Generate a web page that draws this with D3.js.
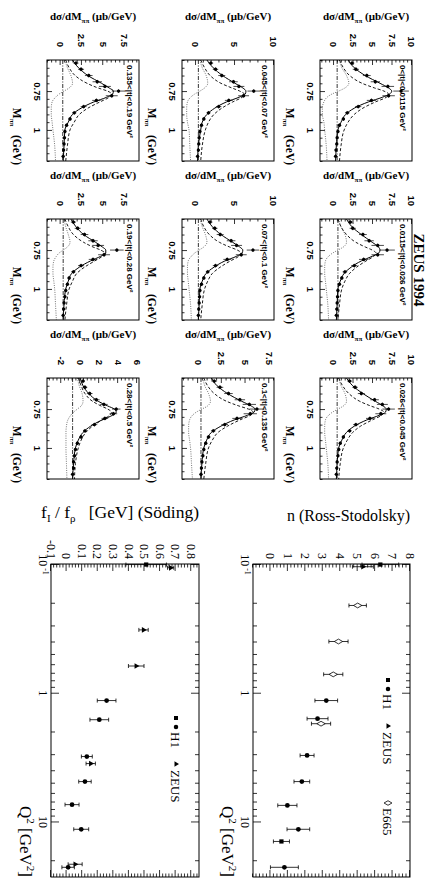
<!DOCTYPE html>
<html>
<head>
<meta charset="utf-8">
<title>ZEUS 1994 rho mass spectra</title>
<script src="https://cdn.jsdelivr.net/npm/d3@7"></script>
<style>
  html, body { margin: 0; padding: 0; background: #fff; }
  svg { display: block; }
</style>
</head>
<body>
<div id="chart"></div>
<script>
// ---------------- Data ----------------
// |t| bins of the nine ZEUS 1994 M(pi pi) spectra
const tBins = [
  "0<|t|<0.0115 GeV²", "0.0115<|t|<0.026 GeV²", "0.026<|t|<0.045 GeV²",
  "0.045<|t|<0.07 GeV²", "0.07<|t|<0.1 GeV²", "0.1<|t|<0.135 GeV²",
  "0.135<|t|<0.19 GeV²", "0.19<|t|<0.28 GeV²", "0.28<|t|<0.5 GeV²"
];

const massTicks = [0.75, 1];
const dsigmaTicks = [
  [0, 2.5, 5, 7.5, 10], [0, 2.5, 5, 7.5, 10], [0, 2.5, 5, 7.5, 10],
  [0, 5, 10], [0, 5, 10], [0, 2.5, 5, 7.5],
  [0, 2.5, 5, 7.5], [0, 2.5, 5, 7.5], [-2, 0, 2, 4, 6]
];

// fit curves, sampled at these masses (GeV)
const curveMass = [0.55, 0.6, 0.65, 0.7, 0.73, 0.75, 0.77, 0.79, 0.82, 0.86, 0.9, 0.95, 1.0, 1.1, 1.2];

// full fit (solid)
const totalFit = [
  [1.8, 2.6, 4.0, 5.9, 7.0, 7.4, 7.1, 6.2, 4.4, 2.6, 1.5, 0.9, 0.5, 0.3, 0.2],
  [1.6, 2.3, 3.5, 4.9, 5.7, 5.9, 5.7, 4.9, 3.5, 2.2, 1.3, 0.8, 0.5, 0.4, 0.3],
  [1.6, 2.4, 3.7, 5.3, 6.3, 6.7, 6.6, 5.8, 4.2, 2.6, 1.6, 1.0, 0.6, 0.4, 0.3],
  [1.4, 2.2, 3.4, 5.0, 6.0, 6.4, 6.3, 5.5, 3.9, 2.4, 1.4, 0.8, 0.6, 0.3, 0.2],
  [1.4, 2.1, 3.2, 4.7, 5.6, 6.0, 5.9, 5.2, 3.7, 2.3, 1.3, 0.8, 0.5, 0.4, 0.3],
  [1.4, 2.0, 3.1, 4.6, 5.6, 6.0, 5.9, 5.2, 3.8, 2.4, 1.4, 0.9, 0.6, 0.4, 0.3],
  [1.4, 2.1, 3.2, 4.8, 5.7, 6.2, 6.1, 5.4, 3.9, 2.4, 1.4, 0.9, 0.5, 0.4, 0.3],
  [1.2, 1.8, 2.7, 4.1, 4.9, 5.3, 5.3, 4.7, 3.5, 2.2, 1.3, 0.9, 0.6, 0.4, 0.3],
  [0.0, 0.3, 0.9, 1.9, 2.9, 3.6, 3.8, 3.4, 2.3, 1.1, 0.3, -0.2, -0.5, -0.7, -0.8]
];

// resonant Breit-Wigner term (dashed)
const resonantFit = [
  [0.7, 1.2, 2.0, 3.6, 5.2, 6.4, 7.0, 6.7, 5.3, 3.7, 2.6, 1.8, 1.3, 0.9, 0.7],
  [0.5, 0.9, 1.6, 2.8, 4.0, 4.9, 5.4, 5.1, 4.1, 2.9, 2.0, 1.4, 1.0, 0.7, 0.5],
  [0.6, 1.1, 1.9, 3.3, 4.7, 5.8, 6.4, 6.1, 4.9, 3.4, 2.4, 1.7, 1.2, 0.8, 0.6],
  [0.6, 1.1, 1.8, 3.2, 4.6, 5.6, 6.2, 5.9, 4.7, 3.3, 2.3, 1.6, 1.2, 0.8, 0.6],
  [0.6, 1.0, 1.7, 3.0, 4.3, 5.3, 5.8, 5.5, 4.4, 3.1, 2.1, 1.5, 1.1, 0.8, 0.6],
  [0.6, 1.0, 1.7, 3.0, 4.3, 5.3, 5.8, 5.5, 4.4, 3.1, 2.1, 1.5, 1.1, 0.8, 0.6],
  [0.6, 1.0, 1.7, 3.1, 4.4, 5.5, 6.0, 5.7, 4.6, 3.2, 2.2, 1.6, 1.1, 0.8, 0.6],
  [0.5, 0.9, 1.5, 2.7, 3.8, 4.7, 5.2, 4.9, 4.0, 2.8, 1.9, 1.4, 1.0, 0.7, 0.5],
  [-0.2, 0.1, 0.5, 1.3, 2.2, 2.9, 3.3, 3.1, 2.3, 1.3, 0.6, 0.1, -0.2, -0.5, -0.6]
];

// interference term (dotted)
const interferenceFit = [
  [0.7, 1.0, 1.6, 1.9, 1.4, 0.6, -0.3, -0.9, -1.3, -1.5, -1.5, -1.3, -1.2, -1.0, -0.9],
  [0.6, 0.9, 1.4, 1.6, 1.2, 0.5, -0.2, -0.7, -1.1, -1.2, -1.2, -1.1, -1.0, -0.8, -0.7],
  [0.6, 0.9, 1.4, 1.6, 1.2, 0.5, -0.2, -0.7, -1.1, -1.2, -1.2, -1.1, -1.0, -0.8, -0.7],
  [0.5, 0.8, 1.3, 1.5, 1.1, 0.5, -0.2, -0.7, -1.1, -1.2, -1.2, -1.1, -0.9, -0.8, -0.7],
  [0.5, 0.8, 1.2, 1.4, 1.0, 0.4, -0.2, -0.6, -1.0, -1.1, -1.1, -1.0, -0.9, -0.7, -0.6],
  [0.5, 0.7, 1.1, 1.3, 1.0, 0.4, -0.2, -0.6, -0.9, -1.0, -1.0, -0.9, -0.8, -0.7, -0.6],
  [0.5, 0.8, 1.2, 1.4, 1.0, 0.4, -0.2, -0.6, -1.0, -1.1, -1.1, -1.0, -0.9, -0.7, -0.6],
  [0.4, 0.6, 0.9, 1.1, 0.8, 0.3, -0.2, -0.5, -0.8, -0.9, -0.9, -0.8, -0.7, -0.6, -0.5],
  [-0.3, -0.1, 0.2, 0.3, 0.1, -0.3, -0.7, -1.0, -1.3, -1.45, -1.5, -1.5, -1.5, -1.45, -1.4]
];

// non-resonant background level (dash-dot)
const nonResonantFit = [0.4, 0.5, 0.4, 0.3, 0.3, 0.3, 0.25, 0.3, -0.8];

// measured points
const dataMass = [0.57, 0.61, 0.65, 0.69, 0.72, 0.75, 0.78, 0.81, 0.85, 0.89, 0.93, 0.97, 1.01, 1.05, 1.09, 1.13, 1.17];
const dataValues = [
  [2.3, 2.8, 4.2, 5.3, 6.9, 8.6, 7.0, 4.8, 3.1, 1.7, 1.2, 0.7, 0.5, 0.4, 0.35, 0.25, 0.2],
  [2.1, 2.4, 3.7, 4.5, 5.6, 6.8, 5.6, 3.8, 2.6, 1.4, 1.0, 0.7, 0.5, 0.45, 0.4, 0.35, 0.3],
  [2.0, 2.7, 3.5, 5.2, 6.2, 7.0, 6.0, 4.6, 2.8, 2.0, 1.2, 0.8, 0.6, 0.5, 0.4, 0.35, 0.3],
  [1.9, 2.5, 3.3, 4.8, 5.5, 7.4, 6.1, 4.2, 2.9, 1.6, 1.0, 0.7, 0.5, 0.4, 0.35, 0.3, 0.2],
  [1.8, 2.4, 3.1, 4.5, 5.2, 7.3, 5.8, 4.0, 2.5, 1.5, 1.0, 0.7, 0.5, 0.45, 0.4, 0.35, 0.3],
  [1.7, 2.3, 3.2, 4.4, 5.4, 6.2, 5.5, 4.1, 2.8, 1.6, 1.1, 0.8, 0.6, 0.5, 0.4, 0.35, 0.3],
  [1.8, 2.4, 3.3, 4.3, 5.2, 6.8, 6.0, 4.2, 2.7, 1.6, 1.1, 0.7, 0.5, 0.45, 0.4, 0.35, 0.3],
  [1.5, 2.0, 2.8, 3.8, 4.4, 6.6, 5.1, 3.8, 2.4, 1.5, 1.0, 0.8, 0.6, 0.5, 0.4, 0.35, 0.3],
  [0.3, 0.5, 1.0, 1.7, 2.5, 3.8, 3.5, 2.6, 1.5, 0.5, 0.1, -0.3, -0.5, -0.6, -0.7, -0.7, -0.8]
];
const errLowT = [0.3, 0.4, 0.5, 0.6, 0.8, 1.0, 0.8, 0.6, 0.4, 0.3, 0.2, 0.15, 0.12, 0.1, 0.1, 0.1, 0.1];
const errMidT = [0.3, 0.35, 0.45, 0.55, 0.7, 0.8, 0.7, 0.5, 0.35, 0.25, 0.2, 0.15, 0.12, 0.1, 0.1, 0.1, 0.1];
const errHighT = [0.2, 0.25, 0.3, 0.35, 0.4, 0.45, 0.4, 0.35, 0.3, 0.2, 0.15, 0.12, 0.1, 0.1, 0.1, 0.1, 0.1];
const dataErrors = [errLowT, errLowT, errMidT, errMidT, errMidT, errMidT, errMidT, errMidT, errHighT];

// right-hand plots: Q2 dependence
const q2Ticks = [0.1, 1, 10];
const nTicks = [0, 1, 2, 3, 4, 5, 6, 7, 8];
const fTicks = [-0.1, 0, 0.1, 0.2, 0.3, 0.4, 0.5, 0.6, 0.7, 0.8];

// n (Ross-Stodolsky)
const nH1SquareQ2 = [0.101, 14.3];
const nH1SquareVal = [6.3, 0.63];
const nH1SquareErr = [1.05, 0.46];
const nH1CircleQ2 = [1.15, 1.59, 3.07, 4.9, 7.5, 11.5, 22.7];
const nH1CircleVal = [3.2, 2.7, 2.1, 1.8, 0.97, 1.6, 0.8];
const nH1CircleErr = [0.65, 0.6, 0.4, 0.45, 0.55, 0.65, 0.8];
const nZeusQ2 = [0.105];
const nZeusVal = [5.3];
const nZeusErr = [0.6];
const nE665Q2 = [0.21, 0.4, 0.72, 1.74];
const nE665Val = [5.0, 3.9, 3.6, 2.9];
const nE665Err = [0.5, 0.55, 0.55, 0.55];

// f_I / f_rho (Soeding)
const fH1SquareQ2 = [0.101];
const fH1SquareVal = [0.511];
const fH1SquareErr = [0.13];
const fH1CircleQ2 = [1.15, 1.62, 3.13, 4.9, 7.4, 11.5, 22.7];
const fH1CircleVal = [0.257, 0.21, 0.13, 0.118, 0.035, 0.094, 0.01];
const fH1CircleErr = [0.06, 0.06, 0.035, 0.04, 0.045, 0.048, 0.04];
const fZeusQ2 = [0.107, 0.325, 0.62, 3.55, 21.5];
const fZeusVal = [0.668, 0.494, 0.447, 0.155, 0.055];
const fZeusErr = [0.02, 0.03, 0.05, 0.03, 0.045];

// ---------------- Layout ----------------
const serif = "'Liberation Serif', 'Times New Roman', serif";
const sans = "'Liberation Sans', Arial, sans-serif";

const svgWidth = 433;
const svgHeight = 878;

const svg = d3
  .select("#chart")
  .append("svg")
  .attr("width", svgWidth)
  .attr("height", svgHeight)
  .style("background", "#fff");

// the figure is laid out landscape (878 x 433) and turned a quarter clockwise
const page = svg
  .append("g")
  .attr("transform", `translate(${svgWidth},0) rotate(90)`);
const defs = page.append("defs");

const styleAxis = (g, font, size, weight) => {
  g.select(".domain").remove();
  g.selectAll(".tick line").attr("stroke", "#000").attr("stroke-width", 0.8);
  g.selectAll(".tick text")
    .attr("fill", "#000")
    .attr("font-family", font)
    .attr("font-size", size)
    .attr("font-weight", weight);
};

// ---------------- ZEUS panels ----------------
const panelLeft = [60, 219, 378];
const panelTop = [21, 159, 294];
const panelW = 101;
const panelH = 92;
const massDomain = [0.55, 1.2];
const dsigmaDomains = [
  [-1.8, 10], [-1.8, 10], [-1.8, 10],
  [-1.8, 10], [-1.8, 10], [-1.7, 8],
  [-1.6, 9.2], [-1.6, 9.2], [-3.5, 6.2]
];
const dsigmaMinor = [0.5, 0.5, 0.5, 1, 1, 0.5, 0.5, 0.5, 0.4];

page
  .append("text")
  .attr("x", 270)
  .attr("y", 19)
  .attr("text-anchor", "middle")
  .attr("font-family", serif)
  .attr("font-weight", "bold")
  .attr("font-size", 15)
  .text("ZEUS 1994");

tBins.forEach((label, i) => {
  const x0 = panelLeft[i % 3];
  const y0 = panelTop[Math.floor(i / 3)];
  const [yMin, yMax] = dsigmaDomains[i];

  const xScale = d3.scaleLinear().domain(massDomain).range([x0, x0 + panelW]);
  const yScale = d3.scaleLinear().domain([yMin, yMax]).range([y0 + panelH, y0]);

  const panel = page.append("g").attr("class", "panel");

  defs
    .append("clipPath")
    .attr("id", `clip${i}`)
    .append("rect")
    .attr("x", x0)
    .attr("y", y0)
    .attr("width", panelW)
    .attr("height", panelH);

  // Axes
  const massMinor = d3
    .range(11, 25)
    .map((k) => k * 0.05)
    .filter((m) => massTicks.every((t) => Math.abs(t - m) > 1e-6));
  const step = dsigmaMinor[i];
  const ySub = d3
    .range(Math.ceil(yMin / step), Math.floor(yMax / step) + 1)
    .map((k) => k * step)
    .filter((v) => dsigmaTicks[i].every((t) => Math.abs(t - v) > 1e-6));

  panel
    .append("g")
    .attr("transform", `translate(0,${y0 + panelH})`)
    .call(d3.axisBottom(xScale).tickValues(massMinor).tickSize(-2.5).tickFormat(""))
    .call((g) => styleAxis(g, sans, 9.5, "bold"));
  panel
    .append("g")
    .attr("transform", `translate(0,${y0 + panelH})`)
    .call(
      d3.axisBottom(xScale).tickValues(massTicks).tickSize(-5).tickPadding(6).tickFormat((d) => String(d))
    )
    .call((g) => styleAxis(g, sans, 9.5, "bold"));

  panel
    .append("g")
    .attr("transform", `translate(${x0},0)`)
    .call(d3.axisLeft(yScale).tickValues(ySub).tickSize(-2.5).tickFormat(""))
    .call((g) => styleAxis(g, sans, 9.5, "bold"));
  panel
    .append("g")
    .attr("transform", `translate(${x0},0)`)
    .call(
      d3.axisLeft(yScale).tickValues(dsigmaTicks[i]).tickSize(-5).tickPadding(13).tickFormat((d) => String(d))
    )
    .call((g) => styleAxis(g, sans, 9.5, "bold"));

  // Curves
  const line = d3
    .line()
    .x((d) => xScale(d[0]))
    .y((d) => yScale(d[1]))
    .curve(d3.curveMonotoneX);

  const curves = panel.append("g").attr("clip-path", `url(#clip${i})`);

  curves
    .append("path")
    .datum(massDomain.map((m) => [m, nonResonantFit[i]]))
    .attr("d", line)
    .attr("fill", "none")
    .attr("stroke", "#000")
    .attr("stroke-width", 0.8)
    .attr("stroke-dasharray", "4,1.5,1,1.5");

  curves
    .append("path")
    .datum(d3.zip(curveMass, interferenceFit[i]))
    .attr("d", line)
    .attr("fill", "none")
    .attr("stroke", "#666")
    .attr("stroke-width", 0.9)
    .attr("stroke-dasharray", "1,1.3");

  curves
    .append("path")
    .datum(d3.zip(curveMass, resonantFit[i]))
    .attr("d", line)
    .attr("fill", "none")
    .attr("stroke", "#000")
    .attr("stroke-width", 0.9)
    .attr("stroke-dasharray", "3,2");

  curves
    .append("path")
    .datum(d3.zip(curveMass, totalFit[i]))
    .attr("d", line)
    .attr("fill", "none")
    .attr("stroke", "#000")
    .attr("stroke-width", 1);

  // Data points
  const points = d3.zip(dataMass, dataValues[i], dataErrors[i]);
  const pts = panel.append("g").selectAll("g").data(points).join("g");
  pts
    .append("line")
    .attr("x1", (d) => xScale(d[0]))
    .attr("x2", (d) => xScale(d[0]))
    .attr("y1", (d) => yScale(d[1] - d[2]))
    .attr("y2", (d) => yScale(d[1] + d[2]))
    .attr("stroke", "#000")
    .attr("stroke-width", 0.7);
  pts
    .append("line")
    .attr("x1", (d) => xScale(d[0] - 0.012))
    .attr("x2", (d) => xScale(d[0] + 0.012))
    .attr("y1", (d) => yScale(d[1]))
    .attr("y2", (d) => yScale(d[1]))
    .attr("stroke", "#000")
    .attr("stroke-width", 0.7);
  pts
    .append("circle")
    .attr("cx", (d) => xScale(d[0]))
    .attr("cy", (d) => yScale(d[1]))
    .attr("r", 1.7)
    .attr("fill", "#000");

  // Frame
  panel
    .append("rect")
    .attr("x", x0)
    .attr("y", y0)
    .attr("width", panelW)
    .attr("height", panelH)
    .attr("fill", "none")
    .attr("stroke", "#000")
    .attr("stroke-width", 1);

  // |t| bin label
  panel
    .append("text")
    .attr("x", x0 + 5)
    .attr("y", y0 + 12)
    .attr("font-family", sans)
    .attr("font-weight", "bold")
    .attr("font-size", 8)
    .text(label);

  // axis titles
  const yTitle = panel
    .append("text")
    .attr("transform", `translate(${x0 - 40},${y0 + panelH / 2}) rotate(-90)`)
    .attr("text-anchor", "middle")
    .attr("font-family", serif)
    .attr("font-weight", "bold")
    .attr("font-size", 11);
  yTitle.append("tspan").text("dσ/dM");
  yTitle.append("tspan").attr("font-size", 7).attr("dy", 3).text("ππ");
  yTitle.append("tspan").attr("dy", -3).text(" (μb/GeV)");

  const xTitle = panel
    .append("text")
    .attr("x", x0 + panelW + 4)
    .attr("y", y0 + panelH + 34)
    .attr("text-anchor", "end")
    .attr("font-family", serif)
    .attr("font-weight", "bold")
    .attr("font-size", 11.5)
    .style("white-space", "pre");
  xTitle.append("tspan").text("M");
  xTitle.append("tspan").attr("font-size", 7).attr("dy", 3).text("ππ");
  xTitle.append("tspan").attr("dy", -3).text("   (GeV)");
});

// ---------------- Q2 plots ----------------
const q2Left = 564;
const q2Right = 877;
const q2Scale = d3.scaleLog().domain([0.1, 27]).range([q2Left, q2Right]);

const drawMarkers = (g, yScale, q2, val, err, symbol, size, filled) => {
  const rows = d3.zip(q2, val, err);
  const sel = g.append("g").selectAll("g").data(rows).join("g");
  sel
    .append("line")
    .attr("x1", (d) => q2Scale(d[0]))
    .attr("x2", (d) => q2Scale(d[0]))
    .attr("y1", (d) => yScale(d[1] - d[2]))
    .attr("y2", (d) => yScale(d[1] + d[2]))
    .attr("stroke", "#000")
    .attr("stroke-width", 0.8);
  [-1, 1].forEach((s) => {
    sel
      .append("line")
      .attr("x1", (d) => q2Scale(d[0]) - 2)
      .attr("x2", (d) => q2Scale(d[0]) + 2)
      .attr("y1", (d) => yScale(d[1] + s * d[2]))
      .attr("y2", (d) => yScale(d[1] + s * d[2]))
      .attr("stroke", "#000")
      .attr("stroke-width", 0.8);
  });
  sel
    .append("path")
    .attr("transform", (d) => `translate(${q2Scale(d[0])},${yScale(d[1])})`)
    .attr("d", d3.symbol().type(symbol).size(size))
    .attr("fill", filled ? "#000" : "#fff")
    .attr("stroke", "#000")
    .attr("stroke-width", filled ? 0 : 0.8);
};

const legendItem = (g, x, y, symbol, size, filled) => {
  g.append("path")
    .attr("transform", `translate(${x},${y})`)
    .attr("d", d3.symbol().type(symbol).size(size))
    .attr("fill", filled ? "#000" : "#fff")
    .attr("stroke", "#000")
    .attr("stroke-width", filled ? 0 : 0.8);
};

const legendText = (g, x, y, txt) => {
  g.append("text")
    .attr("x", x)
    .attr("y", y)
    .attr("dy", "0.35em")
    .attr("font-family", serif)
    .attr("font-size", 13)
    .text(txt);
};

const drawQ2Plot = (top, bottom, domain, ticks, minorStep) => {
  const yScale = d3.scaleLinear().domain(domain).range([bottom, top]);
  const g = page.append("g");

  const yMinor = d3
    .range(Math.ceil(domain[0] / minorStep - 1e-6), Math.floor(domain[1] / minorStep + 1e-6) + 1)
    .map((k) => k * minorStep)
    .filter((v) => ticks.every((t) => Math.abs(t - v) > 1e-6));
  const qMinor = q2Scale.ticks().filter((q) => q2Ticks.every((t) => Math.abs(t - q) > 1e-9));

  // left / right
  g.append("g")
    .attr("transform", `translate(${q2Left},0)`)
    .call(d3.axisLeft(yScale).tickValues(yMinor).tickSize(-3.5).tickFormat(""))
    .call((a) => styleAxis(a, serif, 12, "normal"));
  g.append("g")
    .attr("transform", `translate(${q2Left},0)`)
    .call(d3.axisLeft(yScale).tickValues(ticks).tickSize(-7).tickPadding(5).tickFormat((d) => String(d)))
    .call((a) => styleAxis(a, serif, 12, "normal"));
  g.append("g")
    .attr("transform", `translate(${q2Right},0)`)
    .call(d3.axisRight(yScale).tickValues(yMinor).tickSize(-3.5).tickFormat(""))
    .call((a) => styleAxis(a, serif, 12, "normal"));
  g.append("g")
    .attr("transform", `translate(${q2Right},0)`)
    .call(d3.axisRight(yScale).tickValues(ticks).tickSize(-7).tickFormat(""))
    .call((a) => styleAxis(a, serif, 12, "normal"));

  // bottom / top (log Q2)
  g.append("g")
    .attr("transform", `translate(0,${bottom})`)
    .call(d3.axisBottom(q2Scale).tickValues(qMinor).tickSize(-4).tickFormat(""))
    .call((a) => styleAxis(a, serif, 12, "normal"));
  g.append("g")
    .attr("transform", `translate(0,${bottom})`)
    .call(d3.axisBottom(q2Scale).tickValues(q2Ticks).tickSize(-8).tickPadding(3).tickFormat((d) => (d < 1 ? "10" : String(d))))
    .call((a) => styleAxis(a, serif, 12, "normal"))
    .call((a) =>
      a
        .selectAll(".tick text")
        .filter((d) => d < 1)
        .append("tspan")
        .attr("font-size", 8)
        .attr("dy", "-0.4em")
        .text(" -1")
    );
  g.append("g")
    .attr("transform", `translate(0,${top})`)
    .call(d3.axisTop(q2Scale).tickValues(qMinor).tickSize(-4).tickFormat(""))
    .call((a) => styleAxis(a, serif, 12, "normal"));
  g.append("g")
    .attr("transform", `translate(0,${top})`)
    .call(d3.axisTop(q2Scale).tickValues(q2Ticks).tickSize(-8).tickFormat(""))
    .call((a) => styleAxis(a, serif, 12, "normal"));

  g.append("rect")
    .attr("x", q2Left)
    .attr("y", top)
    .attr("width", q2Right - q2Left)
    .attr("height", bottom - top)
    .attr("fill", "none")
    .attr("stroke", "#000")
    .attr("stroke-width", 1);

  // Q2 title
  const qt = g
    .append("text")
    .attr("x", q2Right)
    .attr("y", bottom + 31)
    .attr("text-anchor", "end")
    .attr("font-family", serif)
    .attr("font-size", 17);
  qt.append("tspan").text("Q");
  qt.append("tspan").attr("font-size", 11).attr("dy", -7).text("2");
  qt.append("tspan").attr("dy", 7).text(" [GeV");
  qt.append("tspan").attr("font-size", 11).attr("dy", -7).text("2");
  qt.append("tspan").attr("dy", 7).text("]");

  return { g, yScale };
};

// n (Ross-Stodolsky)
const nPlot = drawQ2Plot(23, 180, [-1, 8], nTicks, 0.2);
page
  .append("text")
  .attr("transform", `translate(521,23) rotate(-90)`)
  .attr("text-anchor", "end")
  .attr("font-family", serif)
  .attr("font-size", 16)
  .text("n (Ross-Stodolsky)");
drawMarkers(nPlot.g, nPlot.yScale, nE665Q2, nE665Val, nE665Err, d3.symbolDiamond, 20, false);
drawMarkers(nPlot.g, nPlot.yScale, nZeusQ2, nZeusVal, nZeusErr, d3.symbolTriangle, 14, true);
drawMarkers(nPlot.g, nPlot.yScale, nH1SquareQ2, nH1SquareVal, nH1SquareErr, d3.symbolSquare, 18, true);
drawMarkers(nPlot.g, nPlot.yScale, nH1CircleQ2, nH1CircleVal, nH1CircleErr, d3.symbolCircle, 18, true);
legendItem(nPlot.g, 680, 45, d3.symbolSquare, 16, true);
legendItem(nPlot.g, 689, 45, d3.symbolCircle, 16, true);
legendText(nPlot.g, 694, 45, "H1");
legendItem(nPlot.g, 726, 45, d3.symbolTriangle, 12, true);
legendText(nPlot.g, 732, 45, "ZEUS");
legendItem(nPlot.g, 803, 45, d3.symbolDiamond, 18, false);
legendText(nPlot.g, 808, 45, "E665");

// f_I / f_rho (Soeding)
const fPlot = drawQ2Plot(234, 382, [-0.1, 0.85], fTicks, 0.02);
const fTitle = page
  .append("text")
  .attr("transform", `translate(518,234) rotate(-90)`)
  .attr("text-anchor", "end")
  .attr("font-family", serif)
  .attr("font-size", 17.5)
  .style("white-space", "pre");
fTitle.append("tspan").text("f");
fTitle.append("tspan").attr("font-size", 11).attr("dy", 4).text("I");
fTitle.append("tspan").attr("dy", -4).text(" / f");
fTitle.append("tspan").attr("font-size", 11).attr("dy", 4).text("ρ");
fTitle.append("tspan").attr("dy", -4).text("   [GeV] (Söding)");
drawMarkers(fPlot.g, fPlot.yScale, fZeusQ2, fZeusVal, fZeusErr, d3.symbolTriangle, 14, true);
drawMarkers(fPlot.g, fPlot.yScale, fH1SquareQ2, fH1SquareVal, fH1SquareErr, d3.symbolSquare, 18, true);
drawMarkers(fPlot.g, fPlot.yScale, fH1CircleQ2, fH1CircleVal, fH1CircleErr, d3.symbolCircle, 18, true);
legendItem(fPlot.g, 718, 257, d3.symbolSquare, 16, true);
legendItem(fPlot.g, 727, 257, d3.symbolCircle, 16, true);
legendText(fPlot.g, 732, 257, "H1");
legendItem(fPlot.g, 764, 257, d3.symbolTriangle, 12, true);
legendText(fPlot.g, 770, 257, "ZEUS");
</script>
</body>
</html>
